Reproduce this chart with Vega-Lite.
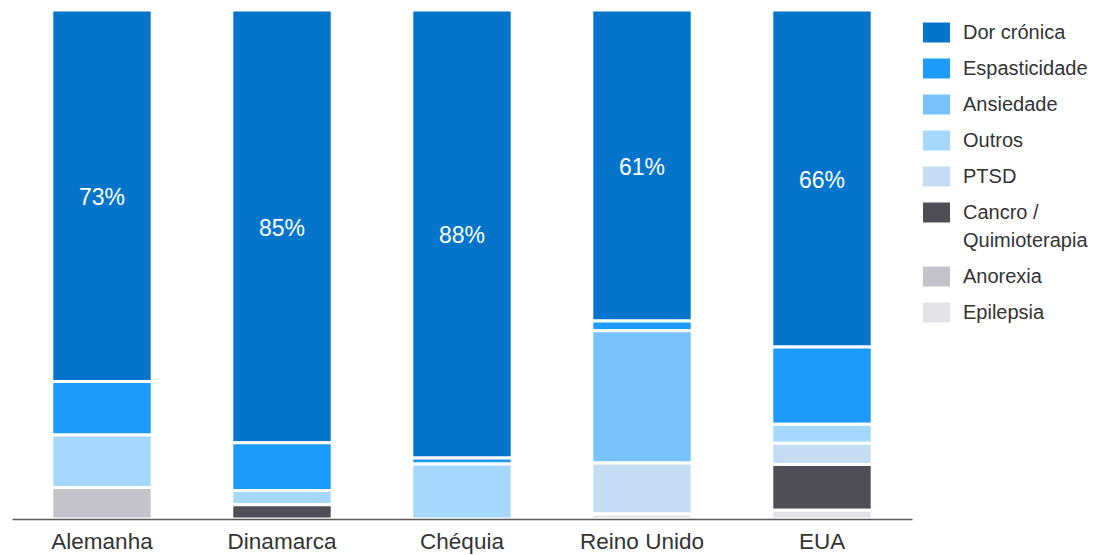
{
  "$schema": "https://vega.github.io/schema/vega-lite/v6.json",
  "autosize": "none",
  "width": 900,
  "height": 509,
  "padding": {"left": 12, "top": 10, "right": 182, "bottom": 36},
  "background": "white",
  "config": {
    "view": {"stroke": null},
    "font": "Liberation Sans",
    "style": {"guide-label": {"lineHeight": 28}}
  },
  "data": {
    "values": [
      {"country": "Alemanha", "cat": "Dor crónica", "value": 73},
      {"country": "Alemanha", "cat": "Espasticidade", "value": 10.5},
      {"country": "Alemanha", "cat": "Outros", "value": 10.3},
      {"country": "Alemanha", "cat": "Anorexia", "value": 6.2},
      {"country": "Dinamarca", "cat": "Dor crónica", "value": 85},
      {"country": "Dinamarca", "cat": "Espasticidade", "value": 9.4},
      {"country": "Dinamarca", "cat": "Outros", "value": 2.8},
      {"country": "Dinamarca", "cat": "Cancro / Quimioterapia", "value": 2.8},
      {"country": "Chéquia", "cat": "Dor crónica", "value": 88},
      {"country": "Chéquia", "cat": "Espasticidade", "value": 1.2},
      {"country": "Chéquia", "cat": "Outros", "value": 10.8},
      {"country": "Reino Unido", "cat": "Dor crónica", "value": 61.1},
      {"country": "Reino Unido", "cat": "Espasticidade", "value": 1.9},
      {"country": "Reino Unido", "cat": "Ansiedade", "value": 26.0},
      {"country": "Reino Unido", "cat": "PTSD", "value": 10.0},
      {"country": "Reino Unido", "cat": "Epilepsia", "value": 1.0},
      {"country": "EUA", "cat": "Dor crónica", "value": 66.2},
      {"country": "EUA", "cat": "Espasticidade", "value": 15.2},
      {"country": "EUA", "cat": "Outros", "value": 3.7},
      {"country": "EUA", "cat": "PTSD", "value": 4.2},
      {"country": "EUA", "cat": "Cancro / Quimioterapia", "value": 9.0},
      {"country": "EUA", "cat": "Epilepsia", "value": 1.7}
    ]
  },
  "transform": [
    {"calculate": "indexof(['Epilepsia','Anorexia','Cancro / Quimioterapia','PTSD','Outros','Ansiedade','Espasticidade','Dor crónica'], datum.cat)", "as": "ord"}
  ],
  "encoding": {
    "x": {
      "field": "country",
      "type": "nominal",
      "sort": ["Alemanha", "Dinamarca", "Chéquia", "Reino Unido", "EUA"],
      "scale": {"paddingInner": 0.442, "paddingOuter": 0.221},
      "axis": {
        "title": null,
        "labelAngle": 0,
        "labelFontSize": 22.5,
        "labelColor": "#333333",
        "labelPadding": 11,
        "labelBaseline": "top",
        "ticks": false,
        "domainColor": "#5a5a5a",
        "domainWidth": 1.5,
        "zindex": 1
      }
    }
  },
  "layer": [
    {
      "mark": {"type": "bar", "stroke": "white", "strokeWidth": 3},
      "encoding": {
        "y": {
          "field": "value",
          "type": "quantitative",
          "stack": "zero",
          "scale": {"domain": [0, 100], "nice": false},
          "axis": null
        },
        "order": {"field": "ord", "type": "quantitative", "sort": "ascending"},
        "color": {
          "field": "cat",
          "type": "nominal",
          "scale": {
            "domain": ["Dor crónica", "Espasticidade", "Ansiedade", "Outros", "PTSD", "Cancro / Quimioterapia", "Anorexia", "Epilepsia"],
            "range": ["#0575CB", "#1C9BFB", "#77C2FC", "#A6D8FE", "#C5DDF3", "#4F4E57", "#C4C3CB", "#E3E2E7"]
          },
          "legend": {
            "title": null,
            "orient": "none",
            "legendX": 911,
            "legendY": 9,
            "symbolType": "M-1,-0.74L1,-0.74L1,0.74L-1,0.74Z",
            "symbolSize": 729,
            "symbolStrokeWidth": 0,
            "labelFontSize": 20,
            "labelColor": "#333333",
            "labelOffset": 13,
            "labelLimit": 300,
            "rowPadding": 12,
            "labelExpr": "datum.label == 'Cancro / Quimioterapia' ? ['Cancro /', 'Quimioterapia'] : datum.label"
          }
        }
      }
    },
    {
      "transform": [
        {"filter": "datum.cat == 'Dor crónica'"},
        {"calculate": "100 - datum.value / 2", "as": "mid"},
        {"calculate": "format(datum.value, '.0f') + '%'", "as": "lbl"}
      ],
      "mark": {"type": "text", "color": "white", "fontSize": 23, "baseline": "middle", "dy": 2.5},
      "encoding": {
        "y": {"field": "mid", "type": "quantitative", "scale": {"domain": [0, 100], "nice": false}},
        "text": {"field": "lbl"}
      }
    }
  ]
}
